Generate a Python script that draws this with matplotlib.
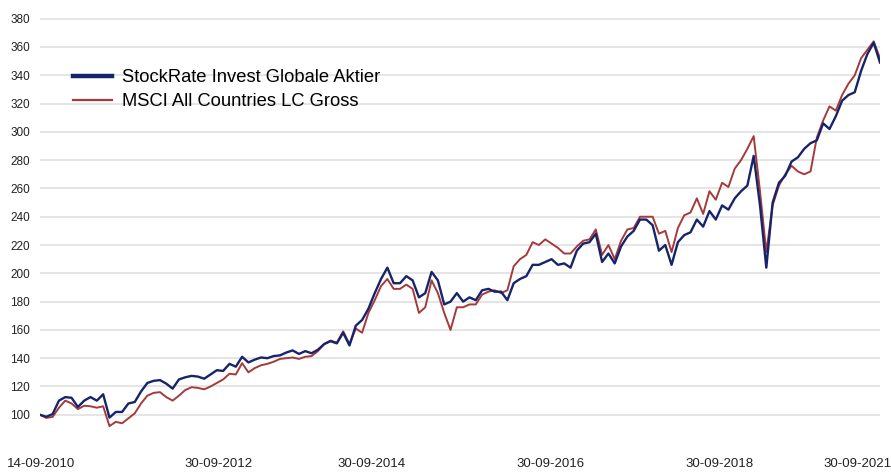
import pandas as pd
import matplotlib
matplotlib.use("Agg")
import matplotlib.pyplot as plt
from matplotlib.lines import Line2D

plt.rcParams['font.family'] = ['Liberation Sans', 'DejaVu Sans']

# monthly-ish readings, 14-09-2010 .. 30-09-2021
start, end = '2010-09-14', '2021-09-30'

stockrate = [
    100, 98.6, 100.5, 110, 112.5, 112, 105.5, 110, 112.5, 110,
    114.5, 98, 102, 102, 108, 109, 116.5, 122.5, 124, 124.5,
    122, 118.5, 125, 126.5, 127.5, 127, 125.5, 128.5, 131.5, 131,
    136, 134, 141, 137, 139, 140.5, 140, 141.5, 142, 144,
    145.5, 143, 145, 143.5, 146, 150, 152, 150.5, 158, 149,
    163, 167, 175, 186, 196, 204, 193, 193, 198, 195,
    183, 186, 201, 195, 178, 180, 186, 180, 183, 181,
    188, 189, 187, 187, 181, 193, 196, 198, 206, 206,
    208, 210, 206, 207, 204, 216, 221, 222, 228, 208,
    214, 207, 219, 226, 230, 238, 238, 234, 216, 220,
    206, 222, 227, 229, 238, 233, 244, 238, 248, 245,
    253, 258, 262, 283, 248, 204, 250, 264, 269, 279,
    282, 288, 292, 294, 306, 302, 311, 322, 326, 328,
    343, 355, 363, 349,
]

msci = [
    100, 97.8, 98.5, 105, 110, 108, 104, 106.4, 106, 105,
    106, 92, 95, 94, 97.5, 101, 108, 113.5, 115.5, 116,
    112.5, 110, 113.5, 117.5, 119.5, 119, 118, 120, 122.5, 125,
    129, 128.5, 136.5, 130, 133, 135, 136, 137.5, 139.5, 140,
    140.5, 139.5, 141, 141.5, 145, 150, 152.5, 151, 159, 150,
    161, 158, 172, 181, 191, 196, 189, 189, 192, 189,
    172, 176, 195, 186, 172, 160, 176, 176, 178, 178,
    185, 187, 188, 186, 188, 205, 210, 213, 222, 220,
    224, 221, 218, 214, 214, 219, 223, 224, 231, 213,
    220, 210, 223, 231, 232, 240, 240, 240, 228, 230,
    215, 232, 241, 243, 253, 242, 258, 252, 264, 261,
    274, 280, 288, 297, 258, 215, 248, 262, 270, 276,
    272, 270, 272, 296, 308, 318, 315, 326, 334, 340,
    352, 358, 364, 352,
]

tick_dates = ['2010-09-19', '2013-01-16', '2015-01-25', '2017-05-30', '2019-08-23', '2021-06-12']
tick_labels = ['14-09-2010', '30-09-2012', '30-09-2014', '30-09-2016', '30-09-2018', '30-09-2021']

navy = '#16256b'
red = '#a63a3a'

dates = pd.date_range(start, end, periods=len(stockrate))

fig = plt.figure(figsize=(8.91, 4.72), dpi=100)
ax = fig.add_axes([40 / 891, 1 - 436 / 472, 840 / 891, (436 - 11.6) / 472])

ax.plot(dates, msci, color=red, lw=1.4)
ax.plot(dates, stockrate, color=navy, lw=1.7)

ax.set_xlim(pd.Timestamp(start), pd.Timestamp(end))
ax.set_ylim(85, 385)
ax.set_yticks(range(100, 381, 20))
ax.set_xticks(pd.to_datetime(tick_dates))
ax.set_xticklabels(tick_labels)

ax.grid(axis='y', color='#e3e3e3', lw=1.3)
ax.set_axisbelow(True)
for s in ax.spines.values():
    s.set_visible(False)
ax.tick_params(axis='both', length=0, labelsize=8.5, colors='#222222')
ax.tick_params(axis='x', pad=16, labelsize=9.5)
ax.tick_params(axis='y', pad=7)

handles = [Line2D([], [], color=navy, lw=3.2), Line2D([], [], color=red, lw=1.6)]
fig.legend(handles, ['StockRate Invest Globale Aktier', 'MSCI All Countries LC Gross'],
           loc='upper left', bbox_to_anchor=(73 / 891, 1 - 69 / 472),
           frameon=False, fontsize=13.2, handlelength=2.1, handletextpad=0.55,
           labelspacing=0.4, borderpad=0, borderaxespad=0)

fig.savefig('out.png', dpi=100)
